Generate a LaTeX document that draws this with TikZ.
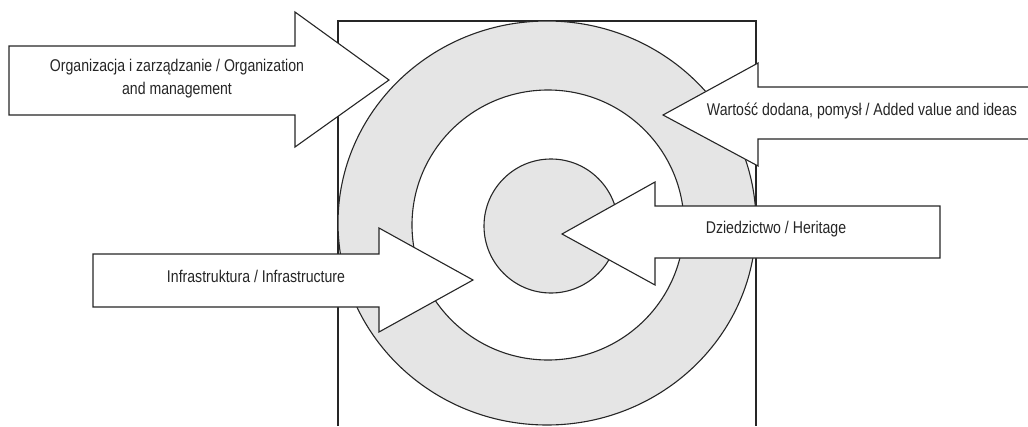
\documentclass[tikz,border=0pt]{standalone}
\usepackage{fontspec}
\setmainfont[FakeStretch=0.83]{Liberation Sans}
\begin{document}
\begin{tikzpicture}[x=1pt, y=-1pt,
  trait/.style={line width=1.1pt, black!85},
  fleche/.style={trait, fill=white, line join=miter},
  texte/.style={font=\fontsize{17}{23}\selectfont, text=black!85, align=center, inner sep=0pt}]
\useasboundingbox (0,0) rectangle (1028,426);
% Cadre
\draw[trait] (338,426) -- (338,21) -- (756,21) -- (756,426);
% Anneau exterieur
\draw[trait, fill=black!10] (547,223) ellipse [x radius=209, y radius=202];
% Anneau blanc
\draw[trait, fill=white] (548,225) ellipse [x radius=136, y radius=135];
% Coeur
\draw[trait, fill=black!10] (551,226) circle (67);
% Organisation
\draw[fleche] (9,46) -- (295,46) -- (295,12) -- (389,80) -- (295,147) -- (295,115) -- (9,115) -- cycle;
\node[texte] (orga) at (177,79) {Organizacja i zarządzanie / Organization\\and management};
% Valeur ajoutee
\draw[fleche] (1032,87) -- (758,87) -- (758,63) -- (663,115) -- (758,166) -- (758,139) -- (1032,139);
\node[texte] (valeur) at (862,111) {Wartość dodana, pomysł / Added value and ideas};
% Heritage
\draw[fleche] (940,206) -- (655,206) -- (655,182) -- (562,234) -- (655,285) -- (655,258) -- (940,258) -- cycle;
\node[texte] (heritage) at (776,229) {Dziedzictwo / Heritage};
% Infrastructure
\draw[fleche] (93,254) -- (379,254) -- (379,228) -- (473,280) -- (379,332) -- (379,307) -- (93,307) -- cycle;
\node[texte] (infra) at (256,276) {Infrastruktura / Infrastructure};
\end{tikzpicture}
\end{document}
